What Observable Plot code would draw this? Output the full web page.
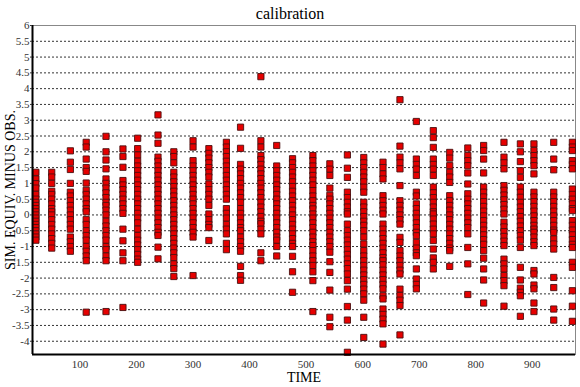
<!DOCTYPE html>
<html>
<head>
<meta charset="utf-8">
<script src="https://cdn.jsdelivr.net/npm/d3@7"></script>
<script src="https://cdn.jsdelivr.net/npm/@observablehq/plot@0.6"></script>
<style>
  html, body { margin: 0; padding: 0; background: #fff; }
  #chart svg { display: block; }
</style>
</head>
<body>
<div id="chart"></div>
<script>
// Observation times (one vertical column of residuals per time)
const times = [22, 50, 83, 111, 146, 176, 202, 238, 266, 300, 328, 359, 384, 420, 448, 476,
               512, 542, 573, 602, 636, 666, 695, 725, 754, 786, 814, 850, 879, 903, 938, 971];

// Simulated equivalent minus observed, per column
const col01 = [1.35, 1.14, 0.99, 0.85, 0.65, 0.5, 0.4, 0.3, 0.2, 0.1, 0.0, -0.1, -0.2, -0.3, -0.4, -0.5, -0.6, -0.7, -0.8];
const col02 = [1.35, 1.2, 1.0, 0.75, 0.65, 0.5, 0.35, 0.2, 0.1, 0.0, -0.15, -0.3, -0.45, -0.6, -0.75, -0.9, -1.05];
const col03 = [2.03, 1.67, 1.44, 1.0, 0.72, 0.6, 0.45, 0.3, 0.15, 0.0, -0.15, -0.3, -0.45, -0.7, -0.85, -1.0, -1.15];
const col04 = [2.3, 2.15, 1.77, 1.5, 1.38, 1.01, 0.78, 0.65, 0.5, 0.35, 0.2, 0.1, -0.15, -0.3, -0.5, -0.65, -0.8, -1.0, -1.15, -1.3, -1.45, -3.08];
const col05 = [2.49, 2.0, 1.74, 1.46, 1.14, 1.0, 0.85, 0.7, 0.55, 0.4, 0.3, 0.15, 0.0, -0.2, -0.35, -0.5, -0.65, -0.8, -1.0, -1.1, -1.3, -1.45, -3.06];
const col06 = [2.09, 1.85, 1.51, 1.09, 0.95, 0.8, 0.65, 0.5, 0.35, 0.2, 0.05, -0.45, -0.82, -1.2, -1.45, -2.93];
const col07 = [2.43, 2.1, 1.9, 1.7, 1.55, 1.4, 1.25, 1.1, 0.95, 0.8, 0.65, 0.5, 0.35, 0.2, 0.05, -0.1, -0.25, -0.45, -0.65, -0.8, -0.95, -1.1, -1.25, -1.4, -1.5];
const col08 = [3.17, 2.53, 2.27, 1.83, 1.7, 1.55, 1.4, 1.25, 1.1, 0.95, 0.8, 0.65, 0.5, 0.35, 0.2, 0.05, -0.1, -0.25, -0.4, -0.55, -0.65, -1.02, -1.39];
const col09 = [2.0, 1.85, 1.65, 1.35, 1.2, 1.05, 0.9, 0.75, 0.6, 0.45, 0.3, 0.15, 0.0, -0.15, -0.3, -0.45, -0.6, -0.75, -0.9, -1.05, -1.2, -1.35, -1.55, -1.7, -1.95];
const col10 = [2.35, 2.15, 1.72, 1.55, 1.4, 1.25, 1.1, 0.95, 0.8, 0.65, 0.5, 0.35, 0.2, 0.05, -0.1, -0.25, -0.4, -0.55, -0.7, -1.92];
const col11 = [2.1, 1.95, 1.8, 1.65, 1.5, 1.35, 1.2, 0.98, 0.8, 0.65, 0.5, 0.3, 0.03, -0.15, -0.3, -0.4, -0.81];
const col12 = [2.3, 2.15, 2.0, 1.85, 1.7, 1.55, 1.4, 1.25, 1.1, 0.95, 0.8, 0.65, 0.5, 0.2, 0.05, -0.1, -0.3, -0.45, -0.6, -0.9, -1.1];
const col13 = [2.78, 2.11, 1.6, 1.45, 1.3, 1.15, 1.0, 0.85, 0.7, 0.55, 0.4, 0.2, 0.05, -0.1, -0.25, -0.4, -0.5, -0.7, -0.85, -1.0, -1.15, -1.63, -1.92, -2.07];
const col14 = [4.38, 2.35, 2.15, 1.88, 1.75, 1.6, 1.45, 1.3, 1.15, 1.0, 0.85, 0.7, 0.55, 0.4, 0.25, 0.1, -0.05, -0.2, -0.28, -0.45, -0.6, -1.2, -1.45];
const col15 = [2.2, 1.55, 1.4, 1.25, 1.1, 0.95, 0.8, 0.65, 0.5, 0.35, 0.2, 0.05, -0.1, -0.25, -0.4, -0.55, -0.7, -0.8, -1.0, -1.3];
const col16 = [1.78, 1.65, 1.5, 1.35, 1.2, 1.05, 0.9, 0.75, 0.6, 0.45, 0.3, 0.15, 0.0, -0.15, -0.3, -0.45, -0.6, -0.75, -0.9, -1.0, -1.31, -1.8, -2.45];
const col17 = [1.88, 1.72, 1.55, 1.4, 1.25, 1.1, 0.95, 0.77, 0.6, 0.45, 0.3, 0.19, 0.03, -0.1, -0.25, -0.4, -0.55, -0.7, -0.85, -0.97, -1.13, -1.3, -1.45, -1.6, -1.8, -2.08, -3.06];
const col18 = [1.62, 1.45, 1.25, 0.85, 0.62, 0.5, 0.35, 0.2, 0.05, -0.1, -0.25, -0.4, -0.55, -0.7, -0.85, -1.0, -1.18, -1.48, -1.82, -2.38, -3.24, -3.54];
const col19 = [1.9, 1.48, 1.19, 0.72, 0.55, 0.4, 0.25, 0.1, 0.03, -0.29, -0.5, -0.65, -0.8, -0.95, -1.1, -1.25, -1.4, -1.55, -1.7, -1.87, -2.08, -2.35, -2.9, -3.33, -4.35];
const col20 = [1.82, 1.65, 1.5, 1.35, 1.2, 1.05, 0.88, 0.72, 0.4, 0.25, 0.1, -0.05, -0.2, -0.33, -0.5, -0.7, -0.92, -1.13, -1.3, -1.45, -1.6, -1.75, -1.9, -2.05, -2.2, -2.35, -2.5, -2.7, -3.24, -3.88];
const col21 = [1.67, 1.5, 1.3, 1.14, 0.61, 0.45, 0.3, 0.15, 0.03, -0.29, -0.45, -0.6, -0.75, -0.9, -1.05, -1.2, -1.35, -1.45, -1.58, -1.75, -1.9, -2.05, -2.2, -2.34, -2.56, -2.66, -2.98, -3.15, -3.3, -3.45, -4.09];
const col22 = [3.65, 2.18, 1.83, 1.65, 1.46, 0.93, 0.45, 0.3, 0.15, 0.0, -0.15, -0.29, -0.71, -0.87, -1.13, -1.3, -1.45, -1.6, -1.75, -1.87, -2.35, -2.55, -2.7, -2.87, -3.8];
const col23 = [2.96, 1.77, 1.6, 1.45, 1.25, 0.72, 0.6, 0.35, 0.2, 0.05, -0.1, -0.25, -0.4, -0.55, -0.66, -0.87, -1.05, -1.2, -1.29, -1.71, -2.03, -2.2, -2.34];
const col24 = [2.67, 2.45, 2.14, 1.77, 1.6, 1.45, 1.25, 0.88, 0.7, 0.55, 0.4, 0.25, 0.1, 0.03, -0.13, -0.29, -0.45, -0.6, -0.81, -1.08, -1.36, -1.5, -1.71];
const col25 = [1.98, 1.8, 1.56, 1.35, 1.2, 1.03, 0.61, 0.45, 0.3, 0.15, 0.0, -0.15, -0.3, -0.45, -0.6, -0.75, -0.9, -1.05, -1.13, -1.63];
const col26 = [2.12, 1.88, 1.72, 1.56, 1.33, 0.98, 0.67, 0.5, 0.35, 0.2, 0.05, -0.1, -0.25, -0.4, -0.6, -1.03, -1.55, -2.52];
const col27 = [2.2, 2.04, 1.77, 1.33, 0.88, 0.72, 0.57, 0.42, 0.27, 0.12, -0.03, -0.18, -0.33, -0.48, -0.63, -0.78, -0.93, -1.13, -1.37, -1.71, -2.06, -2.79];
const col28 = [2.3, 1.83, 1.65, 1.46, 0.93, 0.78, 0.63, 0.48, 0.33, 0.18, 0.03, -0.23, -0.38, -0.53, -0.68, -0.83, -0.97, -1.4, -1.55, -1.71, -1.92, -2.08, -2.24, -2.89];
const col29 = [2.25, 2.0, 1.69, 1.4, 1.19, 0.88, 0.72, 0.56, 0.4, 0.25, 0.1, -0.05, -0.2, -0.35, -0.5, -0.65, -0.8, -1.03, -1.66, -2.06, -2.32, -2.45, -2.56, -3.21];
const col30 = [2.25, 2.04, 1.88, 1.72, 1.56, 1.3, 0.72, 0.57, 0.42, 0.27, 0.12, -0.03, -0.18, -0.33, -0.45, -0.55, -0.7, -0.85, -0.97, -1.76, -1.87, -2.22, -2.34, -2.79, -3.06];
const col31 = [2.3, 1.77, 1.43, 0.72, 0.57, 0.42, 0.27, 0.12, -0.03, -0.18, -0.33, -0.48, -0.55, -0.76, -0.92, -1.08, -1.98, -2.3, -2.98, -3.33];
const col32 = [2.3, 2.15, 2.04, 1.72, 1.6, 1.46, 0.82, 0.65, 0.5, 0.35, 0.2, 0.14, -0.18, -0.33, -0.48, -0.63, -0.78, -0.93, -1.03, -1.5, -1.66, -2.4, -2.89, -3.37];

const columns = [col01, col02, col03, col04, col05, col06, col07, col08, col09, col10, col11, col12, col13, col14, col15, col16,
                 col17, col18, col19, col20, col21, col22, col23, col24, col25, col26, col27, col28, col29, col30, col31, col32];

// Axis ticks and labels
const xTicks = [100, 200, 300, 400, 500, 600, 700, 800, 900];
const yTicks = [-4, -3.5, -3, -2.5, -2, -1.5, -1, -0.5, 0, 0.5, 1, 1.5, 2, 2.5, 3, 3.5, 4, 4.5, 5, 5.5, 6];
const xDomain = [16, 976.5];
const yDomain = [-4.42, 6];
const titleText = "calibration";
const xLabel = "TIME";
const yLabel = "SIM. EQUIV. MINUS OBS.";

const data = times.flatMap((t, i) => columns[i].map(v => ({time: t, value: v})));

const chart = Plot.plot({
  width: 580,
  height: 387,
  marginTop: 25,
  marginBottom: 33,
  marginLeft: 32,
  marginRight: 5,
  style: {fontFamily: "'Liberation Serif', 'Times New Roman', serif", fontSize: "11px", color: "#333", background: "#fff"},
  x: {domain: xDomain},
  y: {domain: yDomain},
  marks: [
    Plot.ruleY(yTicks, {stroke: "#333", strokeDasharray: "2,2", strokeWidth: 1}),
    Plot.frame({stroke: "#888", strokeWidth: 1}),
    Plot.dot(data, {x: "time", y: "value", symbol: "square", r: 3.5, fill: "#e60000", stroke: "#4a1010", strokeWidth: 0.9}),
    Plot.ruleX([xDomain[0]], {stroke: "#000", strokeWidth: 2}),
    Plot.ruleY([yDomain[0]], {stroke: "#000", strokeWidth: 2}),
    Plot.axisY({ticks: yTicks, tickFormat: d => String(d), tickSize: 2, tickPadding: 1, label: null, fontSize: 11}),
    Plot.axisX({ticks: xTicks, tickFormat: d => String(d), tickSize: 0, tickPadding: 6, label: null, fontSize: 11}),
    Plot.text([titleText], {frameAnchor: "top", dx: -14, dy: -12, lineAnchor: "middle", fontSize: 16, fill: "#000"}),
    Plot.text([xLabel], {frameAnchor: "bottom", dy: 23, lineAnchor: "middle", fontSize: 14, fill: "#000"}),
    Plot.text([yLabel], {frameAnchor: "left", dx: -22, rotate: -90, textAnchor: "middle", lineAnchor: "middle", fontSize: 14, fill: "#000"})
  ]
});
document.getElementById("chart").appendChild(chart);
</script>
</body>
</html>
